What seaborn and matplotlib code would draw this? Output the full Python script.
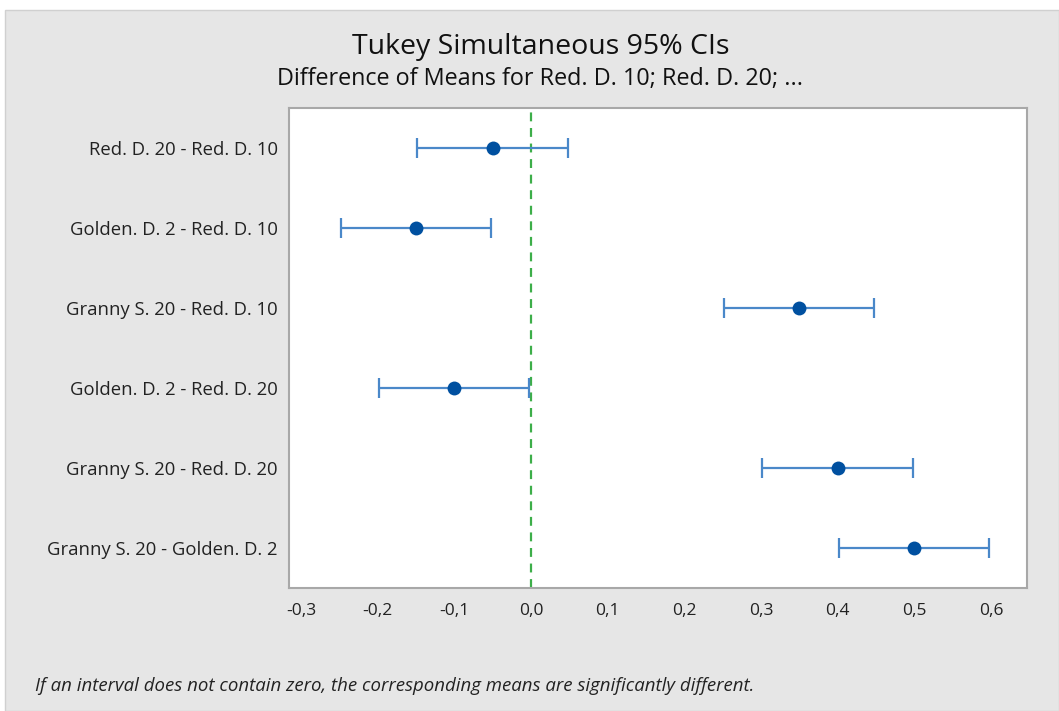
import matplotlib
matplotlib.use("Agg")
import matplotlib.pyplot as plt
import seaborn as sns
import pandas as pd
from matplotlib.patches import Rectangle

comparisons = [
    "Red. D. 20 - Red. D. 10",
    "Golden. D. 2 - Red. D. 10",
    "Granny S. 20 - Red. D. 10",
    "Golden. D. 2 - Red. D. 20",
    "Granny S. 20 - Red. D. 20",
    "Granny S. 20 - Golden. D. 2",
]
diff_means = [-0.05, -0.15, 0.35, -0.10, 0.40, 0.50]
lower = [-0.148, -0.248, 0.252, -0.198, 0.302, 0.402]
upper = [0.048, -0.052, 0.448, -0.002, 0.498, 0.598]
xtick_values = [-0.3, -0.2, -0.1, 0.0, 0.1, 0.2, 0.3, 0.4, 0.5, 0.6]
xtick_labels = ["-0,3", "-0,2", "-0,1", "0,0", "0,1", "0,2", "0,3", "0,4", "0,5", "0,6"]

df = pd.DataFrame({"comp": comparisons, "diff": diff_means,
                   "lower": lower, "upper": upper})
df["pos"] = range(len(df))

sns.set_style("white")
plt.rcParams["font.family"] = ["Open Sans", "DejaVu Sans"]

W, H = 1059, 711
fig = plt.figure(figsize=(W / 100, H / 100), dpi=100)
fig.patch.set_facecolor("white")
fig.patches.append(Rectangle((5 / W, 0), 1 - 5 / W, 1 - 10 / H, transform=fig.transFigure,
                             facecolor="#e6e6e6", edgecolor="#d0d0d0", lw=1, zorder=-10))

ax = fig.add_axes([289 / W, 1 - 588 / H, (1027 - 289) / W, (588 - 108) / H])
ax.set_facecolor("white")

ax.axvline(0, color="#3dae49", ls=(0, (4, 3)), lw=1.6, zorder=1)

ax.errorbar(df["diff"], df["pos"],
            xerr=[df["diff"] - df["lower"], df["upper"] - df["diff"]],
            fmt="none", ecolor="#4a88c9", elinewidth=1.6, capsize=7, capthick=1.6, zorder=2)
sns.scatterplot(data=df, x="diff", y="pos", ax=ax, color="#0050a0", s=100,
                edgecolor="#0050a0", linewidth=0, zorder=3, legend=False)

ax.set_xlim(-0.3155, 0.647)
ax.set_ylim(5.5, -0.5)
ax.set_xticks(xtick_values)
ax.set_xticklabels(xtick_labels, fontsize=12.5, color="#222222")
ax.set_yticks(df["pos"])
ax.set_yticklabels(df["comp"], fontsize=13.3, color="#222222")
ax.set_xlabel("")
ax.set_ylabel("")
ax.tick_params(axis="x", length=6, width=1, color="#a8a8a8", direction="out", pad=5)
ax.tick_params(axis="y", length=5, width=1, color="#c0c0c0", direction="out", pad=3)
for sp in ax.spines.values():
    sp.set_color("#a8a8a8")
    sp.set_linewidth(1.5)

fig.text(541 / W, 1 - 47 / H, "Tukey Simultaneous 95% CIs", ha="center", va="center",
         fontsize=20.5, color="#111111")
fig.text(540 / W, 1 - 79 / H, "Difference of Means for Red. D. 10; Red. D. 20; ...",
         ha="center", va="center", fontsize=16.8, color="#111111")
fig.text(35 / W, 1 - 686 / H,
         "If an interval does not contain zero, the corresponding means are significantly different.",
         ha="left", va="center", fontsize=13.4, style="italic", color="#222222")

fig.savefig("out.png", dpi=100, facecolor=fig.get_facecolor())
